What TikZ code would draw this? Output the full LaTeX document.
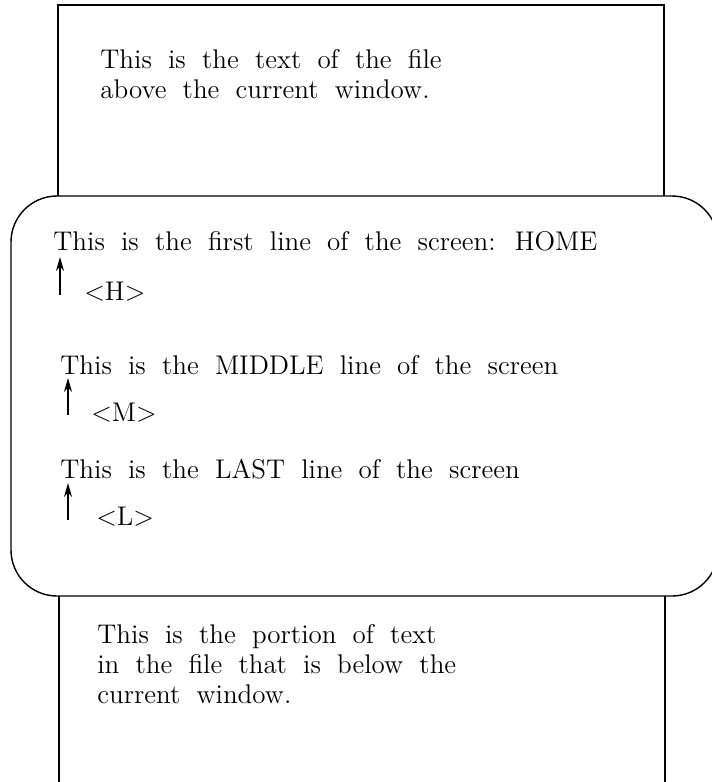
\documentclass[tikz,border=0pt]{standalone}
\usepackage{fontspec}
\usetikzlibrary{arrows.meta}

\newcommand{\winfont}{\fontsize{13.5pt}{15pt}\selectfont\spaceskip=0.6em\relax}

\tikzset{
  txt/.style={anchor=base west, inner sep=0pt, align=left, font=\winfont},
  frame/.style={line width=0.7pt},
  keyarrow/.style={->, line width=0.6pt}
}

\begin{document}
\begin{tikzpicture}[>={Stealth[length=7pt,width=4pt]}, x=0.5pt, y=-0.5pt]
  \useasboundingbox (0,0) rectangle (712,782);
  \clip (0,0) rectangle (712,782);
  % file above the window
  \draw[frame] (58,196) -- (58,5) -- (664,5) -- (664,196);
  \node[txt] (above) at (100,98) {This is the text of the file\\above the current window.};
  % the window
  \draw[frame, rounded corners=23pt] (11,196) rectangle (718,596);
  \node[txt] (home) at (53,250) {This is the first line of the screen: HOME};
  \node[txt] (hkey) at (84,300) {<H>};
  \coordinate (hfoot) at (60,295);
  \coordinate (htip) at (60,257);
  \draw[keyarrow] (hfoot) -- (htip);
  \node[txt] (middle) at (60,374) {This is the MIDDLE line of the screen};
  \node[txt] (mkey) at (91,421) {<M>};
  \coordinate (mfoot) at (68,415);
  \coordinate (mtip) at (68,378);
  \draw[keyarrow] (mfoot) -- (mtip);
  \node[txt] (last) at (60,478) {This is the LAST line of the screen};
  \node[txt] (lkey) at (96,525) {<L>};
  \coordinate (lfoot) at (68,520);
  \coordinate (ltip) at (68,483);
  \draw[keyarrow] (lfoot) -- (ltip);
  % file below the window
  \draw[frame] (59,782) -- (59,596);
  \draw[frame] (665,596) -- (665,782);
  \node[txt] (below) at (97,703) {This is the portion of text\\in the file that is below the\\current window.};
\end{tikzpicture}
\end{document}
